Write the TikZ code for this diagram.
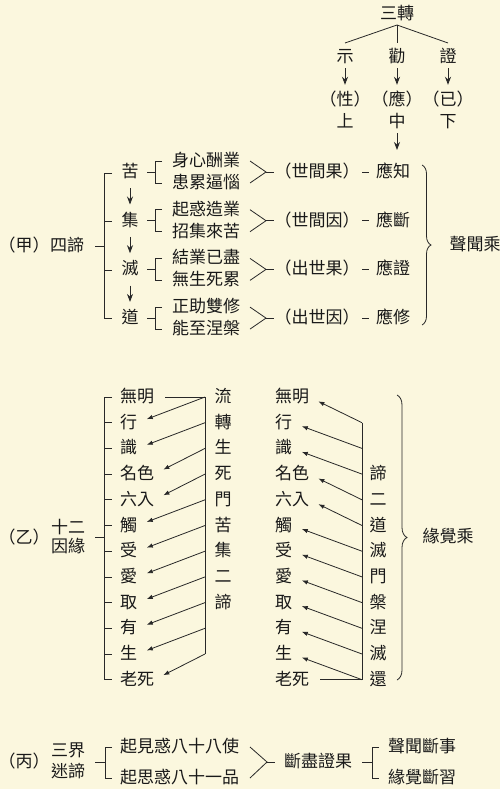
\documentclass[tikz,border=0pt]{standalone}
\usepackage{fontspec}
\newfontfamily\cjk{Noto Sans CJK TC}
\usetikzlibrary{arrows.meta,decorations.pathreplacing}
\definecolor{bg}{RGB}{251,247,222}
\definecolor{ink}{RGB}{25,25,25}
\definecolor{lin}{RGB}{40,40,40}
\tikzset{
  txt/.style={font=\cjk\fontsize{17pt}{17pt}\selectfont, inner sep=0pt, text=ink, text height=14pt, text depth=3pt},
  ln/.style={draw=lin, line width=0.8pt},
  bigarr/.style={ln, -{Stealth[length=8pt,width=6pt]}},
  sarr/.style={ln, -{Latex[length=6pt,width=4.5pt]}, shorten >=10pt},
  bracex/.style={ln, decorate, decoration={brace, amplitude=#1}},
  bracex/.default=9pt
}
\begin{document}
\begin{tikzpicture}[x=1pt,y=-1pt]
\fill[bg] (0,0) rectangle (500,789);
\useasboundingbox (0,0) rectangle (500,789);

% ---------- top: 三轉 ----------
\node[txt] (sz) at (397,14) {三轉};
\coordinate (apex) at (397,25);
\coordinate (tl) at (345,43);
\coordinate (tm) at (397,43);
\coordinate (tr) at (448,43);
\draw[ln] (tl) -- (apex) -- (tr);
\draw[ln] (apex) -- (tm);
\node[txt] (shi) at (345,57) {示};
\node[txt] (quan) at (397,57) {勸};
\node[txt] (zh) at (448,57) {證};
\node[txt] (xing) at (345,100) {（性）};
\node[txt] (ying) at (397,100) {（應）};
\node[txt] (yi) at (448,100) {（已）};
\node[txt] (shang) at (345,122) {上};
\node[txt] (zhong) at (397,122) {中};
\node[txt] (xia) at (448,122) {下};
\draw[bigarr, shorten <=2.5pt, shorten >=6.5pt] (shi) -- (xing);
\draw[bigarr, shorten <=2.5pt, shorten >=6.5pt] (quan) -- (ying);
\draw[bigarr, shorten <=2.5pt, shorten >=6.5pt] (zh) -- (yi);
\coordinate (zend) at (397,150);
\draw[bigarr, shorten <=2.5pt] (zhong.south) -- (zend);

% ---------- (甲) 四諦 ----------
\node[txt] (jia) at (24,246) {（甲）};
\node[txt] (sidi) at (67,246) {四諦};
\draw[ln] (95,246) -- (104,246);
\draw[ln] (112,173) -- (104,173) -- (104,318) -- (112,318);
\draw[ln] (104,221) -- (112,221);
\draw[ln] (104,270) -- (112,270);
\foreach \g/\a/\b/\c/\d [count=\i from 0] in
  {苦/身心酬業/患累逼惱/（世間果）/應知,
   集/起惑造業/招集來苦/（世間因）/應斷,
   滅/結業已盡/無生死累/（出世果）/應證,
   道/正助雙修/能至涅槃/（出世因）/應修}{
  \pgfmathsetmacro\yy{172+48.7*\i}
  \node[txt] (G\i) at (130,\yy) {\g};
  \node[txt,anchor=west] (GA\i) at (172,{\yy-11}) {\a};
  \node[txt,anchor=west] (GB\i) at (172,{\yy+11}) {\b};
  \node[txt] (GP\i) at (317,\yy) {\c};
  \node[txt] (GY\i) at (393,\yy) {\d};
  \draw[ln] (147,\yy) -- (155,\yy);
  \draw[ln] (162,{\yy-11}) -- (155,{\yy-11}) -- (155,{\yy+11}) -- (162,{\yy+11});
  \draw[ln] (250,{\yy-11}) -- (266,\yy) -- (250,{\yy+11});
  \draw[ln] (266,\yy) -- (274,\yy);
  \draw[ln] (362,\yy) -- (369,\yy);
}
\draw[bigarr, shorten <=7.5pt, shorten >=7.5pt] (G0) -- (G1);
\draw[bigarr, shorten <=7.5pt, shorten >=7.5pt] (G1) -- (G2);
\draw[bigarr, shorten <=7.5pt, shorten >=7.5pt] (G2) -- (G3);
\draw[bracex=9pt] (422,165) -- (422,325);
\node[txt] (sw) at (475,245) {聲聞乘};

% ---------- (乙) 十二因緣 ----------
\node[txt] (yi2) at (24,538) {（乙）};
\node[txt] (shier) at (68,528) {十二};
\node[txt] (yinyuan) at (68,547) {因緣};
\draw[ln] (95,537) -- (104,537);
\draw[ln] (112,397) -- (104,397) -- (104,{397+25.7*11}) -- (112,{397+25.7*11});
\foreach \k in {1,...,10}{
  \draw[ln] (104,{397+25.7*\k}) -- (112,{397+25.7*\k});
}
\foreach \t [count=\i from 0] in {無明,行,識,名色,六入,觸,受,愛,取,有,生,老死}{
  \node[txt,anchor=west] (L\i) at (120,{397+25.7*\i}) {\t};
  \node[txt,anchor=west] (R\i) at (275,{397+25.7*\i}) {\t};
}
\foreach \t [count=\i from 0] in {流,轉,生,死,門,苦,集,二,諦}{
  \node[txt] (LC\i) at (223,{397+25.7*\i}) {\t};
}
\foreach \t [count=\i from 3] in {諦,二,道,滅,門,槃,涅,滅,還}{
  \node[txt] (RC\i) at (378,{397+25.7*\i}) {\t};
}
\foreach \k in {0,...,10}{
  \coordinate (LV\k) at (205,{397+25.7*\k});
}
\foreach \k in {1,...,11}{
  \coordinate (RV\k) at (362,{397+25.7*\k});
}
\draw[ln] (LV0) -- (LV10);
\draw[ln] ([xshift=11pt]L0.east) -- (LV0);
\foreach \i [evaluate=\i as \j using int(\i-1)] in {1,...,11}{
  \draw[sarr] (LV\j) -- (L\i.east);
}
\draw[ln] (RV1) -- (RV11);
\draw[ln] ([xshift=11pt]R11.east) -- (RV11);
\foreach \i [evaluate=\i as \j using int(\i+1)] in {0,...,10}{
  \draw[sarr] (RV\j) -- (R\i.east);
}
\draw[bracex=10pt] (397,395) -- (397,680);
\node[txt] (yj) at (448,537) {緣覺乘};

% ---------- (丙) 三界迷諦 ----------
\node[txt] (bing) at (24,762) {（丙）};
\node[txt] (sanjie) at (68,751) {三界};
\node[txt] (midi) at (68,772) {迷諦};
\draw[ln] (95,762) -- (105,762);
\draw[ln] (112,747) -- (105,747) -- (105,778) -- (112,778);
\node[txt,anchor=west] (jian) at (120,747) {起見惑八十八使};
\node[txt,anchor=west] (si) at (120,778) {起思惑八十一品};
\draw[ln] (250,747) -- (267,762) -- (250,778);
\draw[ln] (267,762) -- (275,762);
\node[txt] (dj) at (318,762) {斷盡證果};
\draw[ln] (362,762) -- (372,762);
\draw[ln] (379,747) -- (372,747) -- (372,778) -- (379,778);
\node[txt,anchor=west] (swds) at (388,747) {聲聞斷事};
\node[txt,anchor=west] (yjdx) at (388,778) {緣覺斷習};
\end{tikzpicture}
\end{document}
